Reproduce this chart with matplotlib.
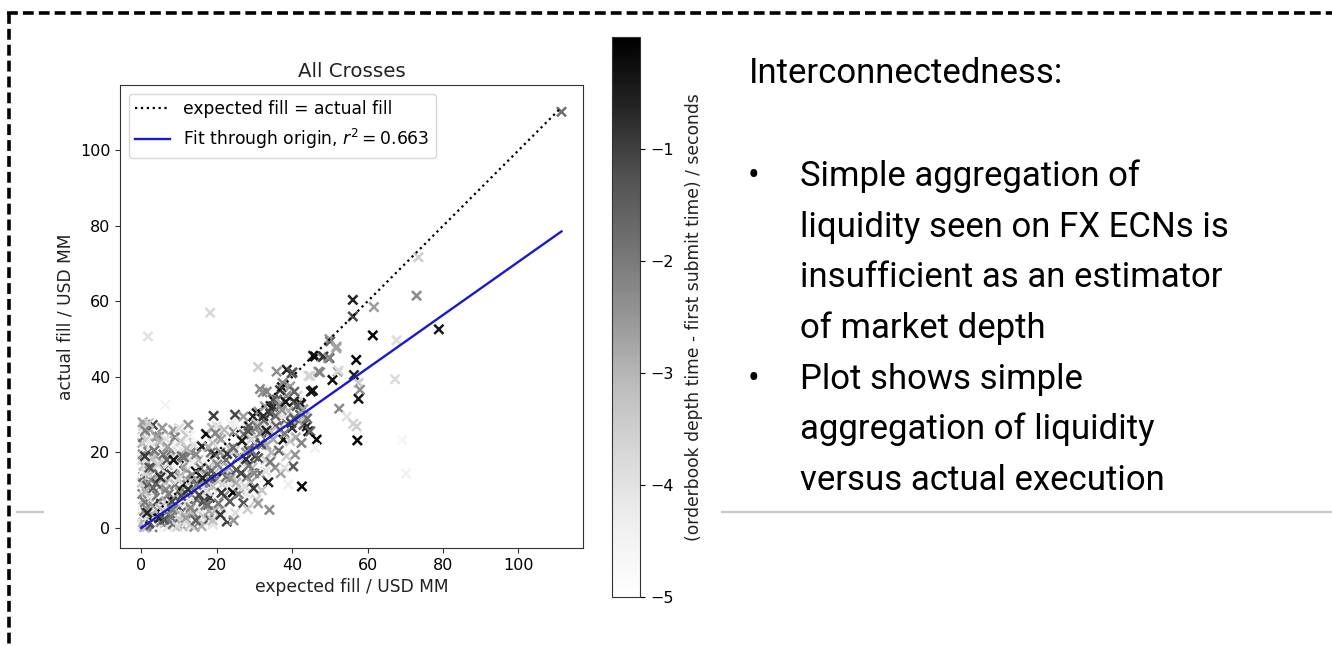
#!/usr/bin/env python3
import matplotlib
matplotlib.use("Agg")
import matplotlib.pyplot as plt
from matplotlib.lines import Line2D

# expected fill (USD MM), actual fill (USD MM), orderbook lag (s) per cross
expected_fill = [
    0.2, 0.5, 0.3, 0.8, 0.2, 0.6, 0.3, 0.9, 0.2, 0.5, 0.3, 0.7, 0.2, 0.4, 0.8, 0.3, 0.5, 0.2, 0.6, 0.4,
    1.5, 1.8, 1.4, 2.0, 1.6, 2.2, 1.5, 1.9, 1.3, 2.4,
    3.0, 3.5, 4.0, 3.2, 4.5, 3.8, 5.0, 3.4, 4.6, 3.0, 5.2, 4.0, 5.5, 3.6, 4.8, 3.1, 4.0, 6.0, 5.5, 6.2,
    5.8, 6.4, 6.0, 6.4,
    7.0, 7.5, 8.0, 7.2, 8.5, 7.8, 9.0, 7.5, 8.8, 7.2, 9.2, 8.0, 9.5, 7.5, 8.5, 10.1, 9.8, 10.0, 9.5, 10.2,
    10.5, 10.0, 9.8,
    11.0, 12.0, 11.5, 12.5, 11.2, 13.0, 11.8, 13.5, 12.2, 14.0, 12.8, 14.5, 13.2, 12.5, 14.0, 15.0, 14.1,
    15.5, 14.8, 15.2, 13.8, 11.0, 12.0,
    16.1, 17.2, 16.5, 17.0, 16.2, 17.8, 16.8, 18.0, 17.5, 18.5, 19.2, 19.0, 18.2, 19.5, 20.0, 19.8, 20.5,
    17.0, 20.2, 18.8,
    21.8, 22.7, 21.5, 22.0, 23.0, 22.5, 23.5, 21.2, 24.3, 24.0, 24.9, 24.5, 25.0, 23.8, 25.5, 25.2, 22.0,
    27.1, 27.1, 26.5, 28.0, 27.0, 28.5, 26.8, 29.0, 28.0, 29.7, 29.5, 30.0, 30.6, 29.0, 30.5, 26.0, 30.2,
    31.1, 31.5, 31.0, 32.2, 32.8, 33.3, 34.6, 35.0, 35.0, 33.7, 34.0, 32.0, 31.5, 33.0, 32.0, 34.5, 33.5,
    31.8, 35.0, 34.0, 35.5,
    35.9, 37.3, 37.5, 38.6, 39.9, 40.1, 37.7, 39.0, 40.3, 40.8, 36.5, 38.0, 39.0, 36.2, 40.0, 38.5, 37.0,
    42.1, 42.1, 42.4, 43.0, 43.9, 44.3, 44.8, 44.3, 44.8, 45.0, 45.5, 46.5, 46.1, 42.6, 45.6, 46.1, 47.0,
    47.4, 47.9, 41.5, 43.5,
    48.3, 49.9, 49.6, 50.1, 49.9, 51.8, 51.7, 50.7, 52.1, 52.3, 52.5, 54.5, 56.2, 57.1, 57.3, 57.0, 56.4,
    57.6, 58.0, 57.6, 56.1, 56.1, 61.7, 61.4,
    67.7, 67.3, 69.2, 70.2, 73.0, 73.5, 78.9, 111.4, 18.3, 1.8,
    # second pass over the dense cloud
    0.8, 2.5, 4.2, 5.2, 6.8, 8.4, 9.6, 11.8, 13.0, 16.0, 18.0, 19.0, 4.8, 2.8,
    1.0, 2.8, 1.2, 2.6, 1.1, 2.9, 1.0, 2.7, 1.1, 2.0, 5.0, 4.2, 5.6, 4.0, 5.8, 4.4, 5.9, 5.0, 5.6, 6.5,
    6.8, 6.6, 6.8, 2.2, 3.5, 1.6,
    7.8, 9.0, 8.2, 10.8, 9.8, 8.0, 11.0, 9.5, 12.5, 13.5, 11.8, 12.8, 14.2, 13.4, 10.8, 12.0, 14.6, 9.0,
    10.5, 13.0, 7.0, 15.5, 15.8, 15.2, 8.6, 7.3, 14.5, 12.2,
    16.5, 17.5, 18.5, 19.0, 17.8, 19.5, 20.8, 21.0, 21.5, 20.5, 22.5, 23.2, 23.5, 24.8, 22.0, 20.0, 18.0,
    16.5, 24.5, 19.0, 21.0,
    25.8, 26.5, 27.5, 27.8, 28.5, 29.2, 30.0, 31.0, 31.5, 32.5, 33.2, 30.5, 28.5, 26.2, 27.2, 33.0, 34.2,
    29.8, 28.2, 31.0, 35.8, 34.5,
    36.0, 37.0, 38.5, 36.8, 39.5, 38.0, 39.5, 40.5, 41.0, 41.5, 36.5, 38.0, 42.5, 43.0, 44.0, 40.5, 37.5,
    # darker crosses along the diagonal band
    10.6, 12.4, 14.7, 16.3, 18.6, 20.2, 22.8, 24.4, 26.7, 28.3, 30.8, 32.4, 34.2, 36.7, 38.3, 40.6,
    13.1, 15.4, 17.7, 21.3, 23.6, 25.2, 27.8, 29.4, 31.7, 33.2, 35.6, 37.3, 39.8, 41.2,
    6.1, 8.3, 3.2, 5.1, 11.4, 19.7,
]
actual_fill = [
    0.5, 1.5, 3.0, 4.5, 6.0, 7.5, 9.0, 10.5, 12.0, 13.5, 15.0, 16.5, 18.0, 19.5, 21.0, 22.5, 24.0, 25.5, 27.0, 28.0,
    0.3, 2.2, 5.2, 8.0, 11.2, 14.0, 17.3, 20.2, 23.4, 26.0,
    0.2, 1.8, 3.5, 5.8, 7.2, 9.5, 10.8, 12.5, 14.0, 16.0, 17.5, 19.0, 21.0, 22.5, 24.2, 27.3, 24.2, 1.0, 3.0, 5.0,
    7.8, 12.0, 15.5, 32.6,
    0.3, 2.0, 4.0, 6.0, 8.0, 10.0, 11.5, 13.0, 15.0, 17.0, 18.5, 20.5, 22.0, 24.5, 26.0, 26.4, 2.5, 5.5, 7.0, 9.5,
    14.0, 16.5, 20.0,
    0.5, 1.5, 3.5, 6.0, 11.5, 8.0, 13.0, 10.5, 15.5, 12.5, 18.0, 15.0, 20.0, 27.3, 22.0, 2.5, 0.3,
    5.0, 7.5, 18.0, 4.0, 22.5, 24.5,
    21.6, 24.9, 3.0, 6.0, 9.0, 11.5, 14.0, 16.0, 18.5, 20.0, 29.7, 22.5, 8.0, 4.5, 13.0, 17.5, 24.0,
    1.5, 9.5, 26.5,
    15.0, 1.7, 5.0, 8.5, 11.0, 18.0, 21.0, 23.5, 9.4, 14.0, 30.0, 25.5, 4.0, 27.5, 18.5, 12.0, 3.2,
    6.6, 29.5, 10.0, 13.5, 17.0, 20.5, 23.0, 26.0, 9.0, 29.5, 16.0, 22.5, 30.4, 12.0, 7.5, 26.5, 19.0,
    30.8, 36.8, 42.6, 35.9, 32.2, 36.1, 31.7, 33.9, 32.2, 12.1, 4.8, 10.0, 14.5, 18.0, 22.0, 20.0, 25.0,
    27.0, 23.5, 28.0, 16.0,
    41.4, 37.3, 38.4, 41.9, 41.0, 41.2, 23.4, 11.5, 16.3, 19.4, 26.0, 28.5, 31.0, 30.0, 26.5, 19.0, 14.5,
    30.0, 33.1, 32.8, 27.3, 26.9, 25.6, 25.6, 40.3, 40.3, 36.1, 36.4, 23.4, 21.2, 11.0, 45.6, 45.4, 41.4,
    41.2, 45.2, 28.5, 29.5,
    45.4, 45.0, 45.0, 49.4, 50.0, 48.0, 47.6, 39.2, 41.4, 41.7, 31.6, 29.5, 27.6, 26.9, 23.2, 44.5, 40.5,
    38.4, 36.6, 34.2, 60.4, 56.0, 58.5, 51.0,
    49.7, 39.4, 23.3, 14.4, 61.5, 71.7, 52.6, 110.2, 57.0, 50.7,
    # second pass over the dense cloud
    0.2, 0.8, 0.4, 1.6, 2.8, 1.0, 0.4, 2.6, 0.8, 0.5, 2.4, 0.9, 2.6, 3.6,
    6.8, 8.8, 9.8, 12.8, 14.6, 18.5, 19.0, 21.8, 25.8, 27.8, 5.2, 8.6, 9.0, 11.8, 13.2, 16.8, 19.5, 22.8, 26.5, 23.5,
    18.0, 10.2, 14.2, 16.0, 20.5, 4.0,
    3.0, 5.0, 7.0, 7.8, 12.8, 14.2, 16.0, 16.2, 12.0, 14.0, 9.2, 4.6, 9.5, 17.0, 19.0, 21.0, 19.5, 24.0,
    23.0, 24.5, 21.5, 12.0, 15.8, 9.8, 18.0, 9.0, 2.0, 6.8,
    12.0, 9.8, 13.5, 11.0, 21.5, 19.5, 16.0, 20.0, 11.5, 6.5, 13.5, 16.0, 7.0, 20.5, 26.0, 27.0, 4.5,
    7.0, 2.0, 2.0, 3.5,
    9.0, 14.5, 11.0, 20.0, 16.5, 23.5, 14.5, 18.5, 25.0, 28.5, 22.0, 27.8, 27.0, 19.0, 24.8, 15.0, 17.5,
    10.5, 5.0, 6.5, 27.0, 25.5,
    34.0, 33.0, 35.0, 36.5, 37.5, 25.0, 23.0, 29.0, 24.0, 35.0, 20.5, 16.0, 22.5, 31.5, 29.0, 33.5, 29.5,
    # darker crosses along the diagonal band
    8.5, 10.2, 11.4, 13.2, 15.1, 16.8, 19.6, 21.3, 23.1, 25.7, 26.8, 29.6, 30.3, 32.2, 33.4, 36.1,
    5.4, 8.7, 6.1, 9.3, 13.2, 15.4, 18.2, 20.4, 22.3, 25.8, 29.7, 31.2, 27.8, 32.3,
    2.2, 4.8, 10.6, 13.4, 18.7, 25.1,
]
depth_lag = [
    -4.2, -2.8, -3.9, -1.9, -4.4, -3.1, -2.2, -4.0, -3.4, -1.6, -4.6, -2.7, -3.8, -2.3, -4.1, -3.0, -1.8, -4.3, -3.6, -2.6,
    -3.3, -4.5, -2.5, -3.7, -1.4, -3.2, -4.0, -2.1, -3.5, -2.9,
    -2.0, -3.6, -4.4, -2.6, -0.9, -3.9, -2.4, -4.2, -3.0, -1.7, -3.8, -2.8, -4.5, -3.3, -2.2, -1.2, -2.6, -3.4, -1.5, -4.0,
    -2.9, -3.5, -1.0, -4.5,
    -4.1, -2.3, -0.8, -3.7, -2.9, -4.3, -1.9, -3.2, -2.5, -4.0, -3.4, -2.0, -4.4, -3.0, -2.7, -3.8, -3.6, -1.3, -4.2, -2.6,
    -3.3, -0.5, -3.9,
    -2.8, -4.0, -3.3, -1.7, -0.6, -3.8, -2.4, -4.5, -3.1, -1.1, -3.6, -0.3, -2.2, -2.5, -3.9, -3.0, -2.4,
    -4.1, -1.8, -3.3, -2.0, -4.2, -3.4,
    -0.6, -0.2, -3.5, -2.2, -4.0, -1.5, -3.0, -2.6, -4.4, -1.9, -1.0, -3.7, -0.9, -3.2, -2.1, -3.6, -2.8,
    -4.2, -4.5, -3.0,
    -0.5, -1.0, -3.3, -2.5, -4.0, -1.8, -3.1, -2.7, -0.1, -3.5, -1.1, -2.3, -3.9, -4.3, -1.4, -2.9, -4.4,
    -1.3, -2.6, -3.4, -2.0, -3.9, -1.2, -3.0, -2.4, -4.2, -0.7, -3.2, -1.6, -0.4, -2.7, -3.6, -4.4, -0.9,
    -2.5, -2.3, -3.5, -2.4, -2.6, -2.2, -0.3, -1.3, -0.8, -0.6, -2.3, -3.3, -1.8, -3.6, -2.0, -3.0, -1.5,
    -3.8, -2.7, -4.0, -2.4,
    -2.4, -0.4, -2.2, -0.5, -1.2, -1.3, -0.3, -4.3, -1.4, -2.5, -3.2, -1.8, -2.9, -3.7, -0.8, -3.5, -2.7,
    -1.5, -0.2, -0.4, -1.4, -0.7, -0.2, -1.6, -3.8, -3.6, -0.5, -0.3, -0.1, -4.4, -0.1, -0.4, -0.2, -2.4,
    -2.2, -2.5, -2.8, -3.3,
    -0.8, -1.3, -2.3, -1.5, -2.4, -2.6, -2.7, -0.2, -2.6, -3.8, -2.3, -4.0, -3.6, -3.5, -0.1, -0.1, -0.6,
    -3.4, -2.4, -0.4, -0.6, -1.1, -2.6, -0.1,
    -3.8, -3.8, -4.6, -4.4, -2.3, -3.5, -0.4, -1.8, -3.7, -4.0,
    # second pass over the dense cloud
    -3.0, -1.2, -4.6, -2.2, -3.2, -1.8, -3.7, -2.6, -3.5, -2.9, -1.6, -4.1, -0.6, -2.9,
    -2.0, -4.1, -3.0, -2.4, -3.7, -3.3, -0.9, -4.2, -2.1, -3.4, -3.1, -2.0, -4.6, -1.4, -2.7, -3.5, -2.0, -3.0, -2.5, -4.0,
    -1.6, -2.3, -4.2, -1.3, -1.9, -0.7,
    -2.0, -3.0, -1.2, -3.9, -3.8, -1.0, -2.6, -4.6, -3.4, -2.3, -2.0, -3.1, -2.7, -4.3, -1.8, -3.0, -2.3, -2.2,
    -3.5, -4.4, -2.6, -3.0, -2.0, -4.4, -0.4, -2.1, -1.5, -4.3,
    -2.4, -3.9, -1.1, -3.2, -2.9, -1.0, -3.4, -2.4, -3.7, -2.0, -1.9, -2.7, -1.4, -3.6, -3.1, -4.0, -2.8,
    -1.2, -2.5, -3.3, -0.9,
    -2.0, -1.0, -3.8, -2.4, -1.9, -3.6, -2.3, -1.4, -2.4, -1.7, -2.8, -3.4, -1.5, -3.0, -2.0, -4.0, -2.0,
    -0.9, -3.5, -2.6, -1.6, -3.3,
    -1.5, -3.0, -2.3, -0.9, -2.6, -2.0, -3.4, -1.5, -2.9, -3.6, -1.8, -3.9, -2.2, -2.7, -1.8, -0.7, -4.1,
    # darker crosses along the diagonal band
    -1.2, -0.8, -2.0, -0.6, -1.5, -2.2, -0.9, -1.7, -0.5, -1.3, -2.1, -0.7, -1.0, -1.9, -0.4, -1.6,
    -2.3, -1.1, -1.8, -0.9, -2.5, -1.4, -0.8, -2.0, -1.2, -0.6, -1.7, -2.4, -1.0, -1.4,
    -1.3, -2.1, -1.6, -0.8, -1.9, -2.2,
]

fit_slope = 0.705
fit_r2 = 0.663

bullet_lines = [
    ["Simple aggregation of", "liquidity seen on FX ECNs is",
     "insufficient as an estimator", "of market depth"],
    ["Plot shows simple", "aggregation of liquidity",
     "versus actual execution"],
]

W, H = 1332, 646


def fx(px):
    return px / W


def fy(py):
    return 1 - py / H


def slide_frame(fig):
    # dashed outline of the slide placeholder plus the grey rule under it
    kw = dict(color="black", linewidth=2.6, linestyle=(0, (3.0, 1.4)),
              transform=fig.transFigure)
    fig.add_artist(Line2D([fx(7), fx(1332)], [fy(13.3), fy(13.3)], **kw))
    fig.add_artist(Line2D([fx(9.3), fx(9.3)], [fy(13.3), fy(646)], **kw))
    rule = dict(color="#c8c8c8", linewidth=1.6, transform=fig.transFigure)
    fig.add_artist(Line2D([fx(17), fx(43)], [fy(512), fy(512)], **rule))
    fig.add_artist(Line2D([fx(722), fx(1332)], [fy(512), fy(512)], **rule))


def scatter_panel(fig):
    ax = fig.add_axes([fx(120), fy(548), fx(463), 463 / H])
    cax = fig.add_axes([fx(611.7), fy(597), fx(28.5), 560 / H])

    sc = ax.scatter(expected_fill, actual_fill, c=depth_lag, cmap="Greys",
                    vmin=-5, vmax=0, marker="x", s=44, linewidths=1.8, zorder=2)
    top = max(expected_fill)
    ax.plot([0, top], [0, top], "k:", linewidth=1.6, zorder=3,
            label="expected fill = actual fill")
    ax.plot([0, top], [0, fit_slope * top], color="#1a1acc", linewidth=1.7, zorder=3,
            label="Fit through origin, $r^2 = %.3f$" % fit_r2)

    ax.set_xlim(-5.6, 117.1)
    ax.set_ylim(-5.3, 117.3)
    ax.set_xticks([0, 20, 40, 60, 80, 100])
    ax.set_yticks([0, 20, 40, 60, 80, 100])
    ax.tick_params(labelsize=11.5, color="#333333")
    for sp in ax.spines.values():
        sp.set_color("#333333")
    ax.set_title("All Crosses", fontsize=14.2, color="#222222")
    ax.set_xlabel("expected fill / USD MM", fontsize=12.3, color="#222222")
    ax.set_ylabel("actual fill / USD MM", fontsize=12.3, color="#222222")
    ax.legend(loc="upper left", fontsize=12.3, handlelength=2.0)

    cb = fig.colorbar(sc, cax=cax)
    cb.set_ticks([-1, -2, -3, -4, -5])
    cb.ax.tick_params(labelsize=11.5)
    cb.outline.set_edgecolor("#333333")
    cb.set_label("(orderbook depth time - first submit time) / seconds",
                 fontsize=12.3, color="#222222", labelpad=8)


def side_text(fig):
    font = dict(family=["Roboto", "DejaVu Sans"], fontsize=25,
                color="black", va="baseline")
    fig.text(fx(749), fy(82.7), "Interconnectedness:", **font)
    base = 186.0
    for block in bullet_lines:
        fig.text(fx(748), fy(base), "\u2022", **font)
        for line in block:
            fig.text(fx(800), fy(base), line, **font)
            base += 50.7


if __name__ == '__main__':
    fig = plt.figure(figsize=(W / 100, H / 100), dpi=100)
    slide_frame(fig)
    scatter_panel(fig)
    side_text(fig)
    fig.savefig("out.png", dpi=100)
